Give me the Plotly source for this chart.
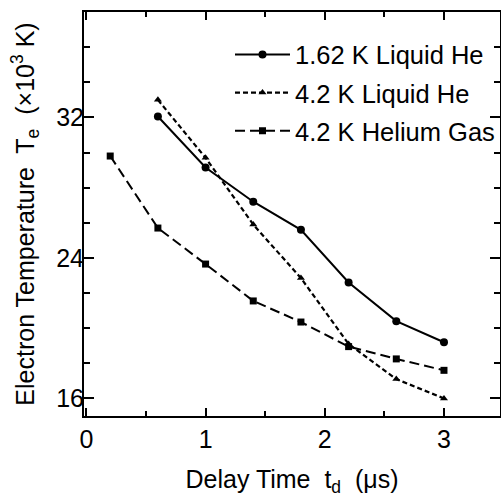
import plotly.graph_objects as go

x_liq = [0.6, 1.0, 1.4, 1.8, 2.2, 2.6, 3.0]
t_162 = [32.05, 29.15, 27.2, 25.6, 22.6, 20.4, 19.2]
t_42 = [33.0, 29.7, 25.9, 22.85, 19.1, 17.1, 16.0]
x_gas = [0.2, 0.6, 1.0, 1.4, 1.8, 2.2, 2.6, 3.0]
t_gas = [29.8, 25.7, 23.65, 21.55, 20.35, 18.95, 18.25, 17.6]
names = ["1.62 K Liquid He", "4.2 K Liquid He", "4.2 K Helium Gas"]
y_ticks = [16, 24, 32]
x_ticks = [0, 1, 2, 3]

FONT = "Liberation Sans, Arial, sans-serif"

fig = go.Figure()
fig.add_trace(go.Scatter(x=x_liq, y=t_162, name=names[0], mode="lines+markers",
                         legendgroup="a",
                         line=dict(color="black", width=2),
                         marker=dict(symbol="circle", size=8, color="black")))
fig.add_trace(go.Scatter(x=x_liq, y=t_42, name=names[1], mode="lines+markers",
                         legendgroup="b",
                         line=dict(color="black", width=2.2, dash="5px,3px"),
                         marker=dict(symbol="triangle-up", size=7, color="black")))
fig.add_trace(go.Scatter(x=x_gas, y=t_gas, name=names[2], mode="lines+markers",
                         legendgroup="c",
                         line=dict(color="black", width=2, dash="10px,5px"),
                         marker=dict(symbol="square", size=7, color="black")))
# invisible trace so the label axis is drawn
fig.add_trace(go.Scatter(x=[x_gas[0]], y=[t_gas[0]], yaxis="y2", mode="markers",
                         marker=dict(opacity=0), showlegend=False, hoverinfo="skip"))

fig.update_layout(
    width=501, height=497,
    margin=dict(l=84, r=1, t=12, b=81, autoexpand=False),
    paper_bgcolor="white", plot_bgcolor="white",
    font=dict(family=FONT, color="black", size=24),
    showlegend=True,
    legend=dict(x=1.0, y=0.952, xanchor="right", yanchor="top",
                bgcolor="rgba(0,0,0,0)", font=dict(size=25.5),
                tracegroupgap=2, itemwidth=55),
    xaxis=dict(range=[-0.02, 3.47], showgrid=False, zeroline=False,
               showline=True, linewidth=2, linecolor="black", mirror="ticks",
               ticks="inside", ticklen=8, tickwidth=2, tickcolor="black",
               tickvals=x_ticks, ticktext=[str(v) for v in x_ticks],
               tickfont=dict(size=25),
               minor=dict(dtick=0.5, tick0=0, ticks="inside", ticklen=5,
                          tickwidth=1.5, tickcolor="black", showgrid=False),
               title=dict(text="Delay Time  t<sub>d</sub>  (μs)",
                          font=dict(size=25), standoff=26)),
    yaxis=dict(range=[15, 38], showgrid=False, zeroline=False,
               showline=True, linewidth=2, linecolor="black", mirror="ticks",
               ticks="inside", ticklen=10, tickwidth=2, tickcolor="black",
               tickvals=y_ticks, showticklabels=False,
               minor=dict(dtick=2, tick0=0, ticks="inside", ticklen=6,
                          tickwidth=1.5, tickcolor="black", showgrid=False)),
    yaxis2=dict(range=[15, 38], overlaying="y", side="left", anchor="free",
                position=0, showgrid=False,
                zeroline=False, showline=False, ticks="",
                tickvals=y_ticks, ticktext=[str(v) for v in y_ticks],
                tickfont=dict(size=25),
                title=dict(text="Electron Temperature  T<sub>e</sub>  (×10<sup>3</sup> K)",
                           font=dict(size=25), standoff=13)),
)

fig.write_html("out.html")
